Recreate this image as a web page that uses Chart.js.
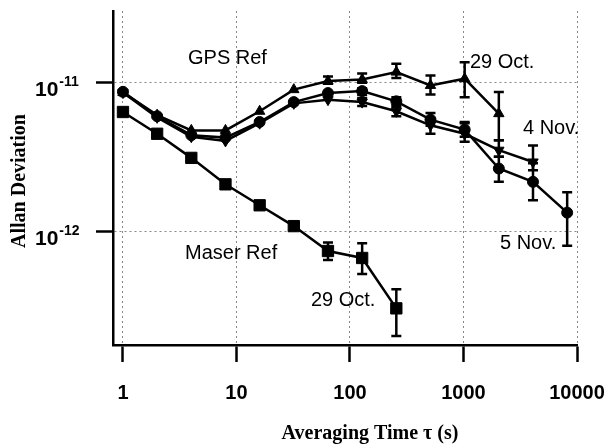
<!DOCTYPE html>
<html>
<head>
<meta charset="utf-8">
<script src="https://cdn.jsdelivr.net/npm/chart.js@4.4.0/dist/chart.umd.min.js"></script>
<style>
  html, body { margin: 0; padding: 0; background: #fff; }
</style>
</head>
<body>
<canvas id="allanChart" width="608" height="445"></canvas>
<script>
// averaging times (s)
const tau = [1, 2, 4, 8, 16, 32, 64, 128, 256, 512, 1024, 2048, 4096, 8192];

// Maser reference, 29 Oct.
const maserDev = [6.3e-12, 4.5e-12, 3.1e-12, 2.06e-12, 1.49e-12, 1.08e-12, 7.35e-13, 6.6e-13, 3.03e-13];
const maserLo = [null, null, null, null, null, null, 6.4e-13, 5.15e-13, 1.98e-13];
const maserHi = [null, null, null, null, null, null, 8.4e-13, 8.3e-13, 4.07e-13];

// GPS reference, 29 Oct. (triangles up)
const oct29Dev = [8.5e-12, 6.0e-12, 4.74e-12, 4.74e-12, 6.37e-12, 8.9e-12, 1.016e-11, 1.04e-11, 1.167e-11, 9.5e-12, 1.054e-11, 6.14e-12];
const oct29Lo = [null, null, null, null, null, null, 9.75e-12, 9.9e-12, 1.064e-11, 8.24e-12, 7.9e-12, 4.07e-12];
const oct29Hi = [null, null, null, null, null, null, 1.09e-11, 1.14e-11, 1.33e-11, 1.109e-11, 1.36e-11, 8.57e-12];

// GPS reference, 4 Nov. (triangles down)
const nov4Dev = [8.5e-12, 5.8e-12, 4.3e-12, 4.03e-12, 5.3e-12, 7.2e-12, 7.62e-12, 7.34e-12, 6.37e-12, 5.13e-12, 4.5e-12, 3.49e-12, 2.91e-12];
const nov4Lo = [null, null, null, null, null, null, null, 6.9e-12, 5.9e-12, 4.5e-12, 3.97e-12, 3.15e-12, 2.56e-12];
const nov4Hi = [null, null, null, null, null, null, null, 7.8e-12, 6.8e-12, 5.7e-12, 5.3e-12, 4.07e-12, 3.75e-12];

// GPS reference, 5 Nov. (circles)
const nov5Dev = [8.6e-12, 5.9e-12, 4.4e-12, 4.24e-12, 5.4e-12, 7.34e-12, 8.44e-12, 8.7e-12, 7.43e-12, 5.6e-12, 4.8e-12, 2.63e-12, 2.14e-12, 1.33e-12];
const nov5Lo = [null, null, null, null, null, null, null, 8.2e-12, 7.0e-12, 5.1e-12, 4.3e-12, 2.14e-12, 1.61e-12, 7.98e-13];
const nov5Hi = [null, null, null, null, null, null, null, 9.1e-12, 7.9e-12, 6.2e-12, 5.4e-12, 3.15e-12, 2.85e-12, 1.82e-12];

// axes
const xTicks = [1, 10, 100, 1000, 10000];
const xTickLabels = ['1', '10', '100', '1000', '10000'];
const yTicks = [1e-12, 1e-11];
const yExponents = ['-12', '-11'];

// annotations: text, tau, deviation (left / baseline anchor)
const notes = [
  ['GPS Ref', 3.74, 1.315e-11],
  ['29 Oct.', 1140, 1.235e-11],
  ['4 Nov.', 3344, 4.51e-12],
  ['5 Nov.', 2097, 7.54e-13],
  ['Maser Ref', 3.52, 6.46e-13],
  ['29 Oct.', 45.3, 3.15e-13]
];

function makeSet(vals, lo, hi, style, rotation, radius) {
  return {
    data: vals.map((v, i) => ({ x: tau[i], y: v })),
    errLo: lo,
    errHi: hi,
    showLine: true,
    borderColor: '#000',
    backgroundColor: '#000',
    borderWidth: 2.5,
    pointStyle: style,
    pointRotation: rotation,
    pointRadius: radius,
    pointBorderWidth: 1,
    pointBackgroundColor: '#000',
    pointBorderColor: '#000'
  };
}

const errorBars = {
  id: 'errorBars',
  afterDatasetsDraw(chart) {
    const { ctx, scales: { x, y } } = chart;
    ctx.save();
    ctx.strokeStyle = '#000';
    ctx.lineWidth = 2.5;
    chart.data.datasets.forEach(ds => {
      ds.data.forEach((p, i) => {
        if (ds.errLo[i] == null) return;
        const px = x.getPixelForValue(p.x);
        const y1 = y.getPixelForValue(ds.errLo[i]);
        const y2 = y.getPixelForValue(ds.errHi[i]);
        ctx.beginPath();
        ctx.moveTo(px, y1); ctx.lineTo(px, y2);
        ctx.moveTo(px - 5, y1); ctx.lineTo(px + 5, y1);
        ctx.moveTo(px - 5, y2); ctx.lineTo(px + 5, y2);
        ctx.stroke();
      });
    });
    ctx.restore();
  }
};

const textPlugin = {
  id: 'texts',
  afterDraw(chart) {
    const { ctx, scales: { x, y } } = chart;
    ctx.save();
    ctx.fillStyle = '#000';
    ctx.textAlign = 'left';
    ctx.textBaseline = 'alphabetic';

    // y tick labels with superscript exponent
    yTicks.forEach((v, i) => {
      const py = y.getPixelForValue(v);
      ctx.font = 'bold 21px "Liberation Sans", Arial, sans-serif';
      ctx.fillText('10', 35, py + 14);
      const w = ctx.measureText('10').width;
      ctx.font = 'bold 14px "Liberation Sans", Arial, sans-serif';
      ctx.fillText(yExponents[i], 35 + w + 1, py + 4);
    });

    // x tick labels
    ctx.font = 'bold 20px "Liberation Sans", Arial, sans-serif';
    ctx.textAlign = 'center';
    xTicks.forEach((v, i) => {
      ctx.fillText(xTickLabels[i], x.getPixelForValue(v), 399);
    });

    // notes inside the plot
    ctx.textAlign = 'left';
    ctx.font = '20px "Liberation Sans", Arial, sans-serif';
    notes.forEach(n => {
      ctx.fillText(n[0], x.getPixelForValue(n[1]), y.getPixelForValue(n[2]));
    });

    // axis titles
    ctx.font = 'bold 20px "Liberation Serif", "Times New Roman", serif';
    ctx.textAlign = 'center';
    ctx.fillText('Averaging Time \u03c4 (s)', 370, 439);
    ctx.translate(25, 181);
    ctx.rotate(-Math.PI / 2);
    ctx.fillText('Allan Deviation', 0, 0);
    ctx.restore();
  }
};

new Chart(document.getElementById('allanChart'), {
  type: 'scatter',
  data: {
    datasets: [
      makeSet(maserDev, maserLo, maserHi, 'rect', 0, 8),
      makeSet(oct29Dev, oct29Lo, oct29Hi, 'triangle', 0, 6),
      makeSet(nov4Dev, nov4Lo, nov4Hi, 'triangle', 180, 6),
      makeSet(nov5Dev, nov5Lo, nov5Hi, 'circle', 0, 5.5)
    ]
  },
  options: {
    responsive: false,
    animation: false,
    layout: { padding: { top: 11, right: 31, left: 0, bottom: 0 } },
    plugins: { legend: { display: false }, tooltip: { enabled: false } },
    scales: {
      x: {
        type: 'logarithmic',
        min: 0.817,
        max: 10000,
        afterBuildTicks: s => { s.ticks = xTicks.map(v => ({ value: v })); },
        afterFit: s => { s.height = 100; },
        grid: { color: '#888', lineWidth: 1, tickLength: 17, tickColor: '#000', tickWidth: 2.5 },
        border: { color: '#000', width: 2.5, dash: [2, 3] },
        ticks: { display: false }
      },
      y: {
        type: 'logarithmic',
        min: 1.72e-13,
        max: 3.0e-11,
        afterBuildTicks: s => { s.ticks = yTicks.map(v => ({ value: v })); },
        afterFit: s => { s.width = 113; },
        grid: { color: '#888', lineWidth: 1, tickLength: 17, tickColor: '#000', tickWidth: 2.5 },
        border: { color: '#000', width: 2.5, dash: [2, 3] },
        ticks: { display: false }
      }
    }
  },
  plugins: [errorBars, textPlugin]
});
</script>
</body>
</html>
